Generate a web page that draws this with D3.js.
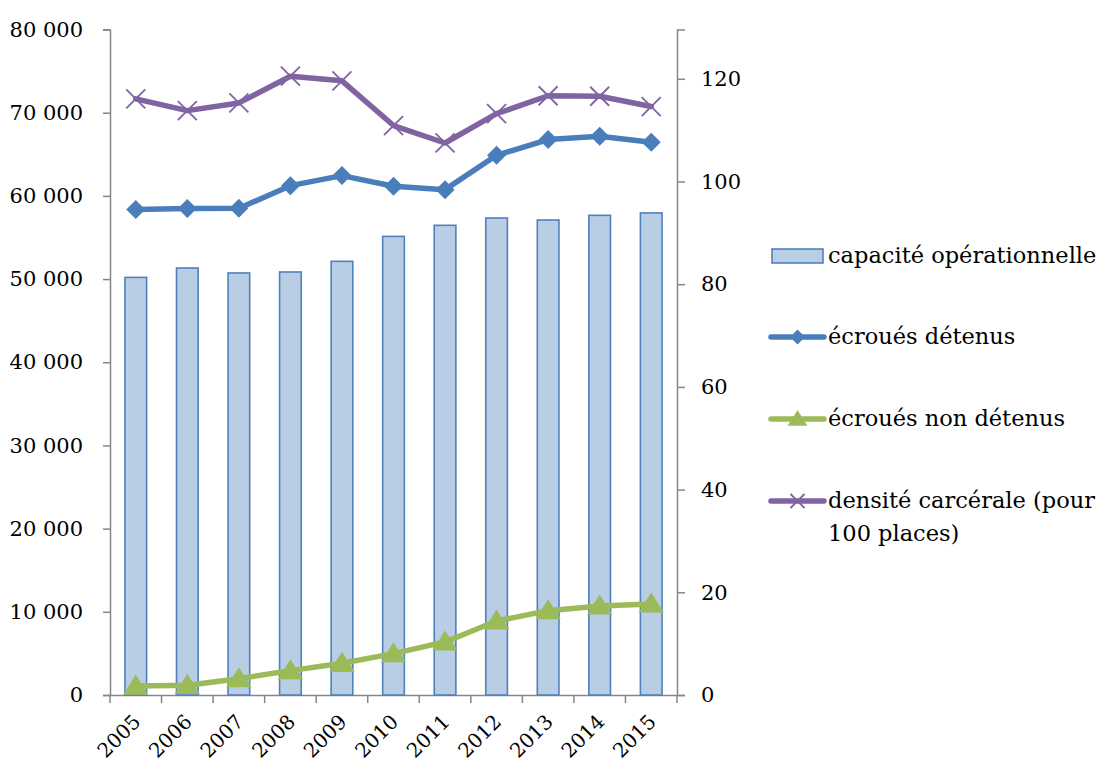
<!DOCTYPE html>
<html>
<head>
<meta charset="utf-8">
<script src="https://cdn.jsdelivr.net/npm/d3@7"></script>
<style>
  html, body { margin: 0; padding: 0; background: #fff; }
  svg text { font-family: "DejaVu Serif", serif !important; }
</style>
</head>
<body>
<svg id="chart" width="1103" height="767"></svg>
<script>
// Années
const years = ["2005","2006","2007","2008","2009","2010","2011","2012","2013","2014","2015"];
// Capacité opérationnelle (places)
const capacite = [50200, 51330, 50730, 50850, 52130, 55130, 56460, 57340, 57100, 57660, 57950];
// Écroués détenus
const detenus = [58350, 58470, 58500, 61230, 62440, 61150, 60750, 64880, 66770, 67160, 66440];
// Écroués non détenus
const nonDetenus = [1080, 1160, 1960, 2930, 3810, 4970, 6380, 8900, 10140, 10710, 10950];
// Densité carcérale (pour 100 places), axe de droite
const densite = [116.1, 113.8, 115.3, 120.5, 119.6, 110.9, 107.5, 113.2, 116.7, 116.6, 114.6];
// Graduations
const leftTicks = [0, 10000, 20000, 30000, 40000, 50000, 60000, 70000, 80000];
const rightTicks = [0, 20, 40, 60, 80, 100, 120];
const legendLabels = ["capacité opérationnelle", "écroués détenus", "écroués non détenus", "densité carcérale (pour", "100 places)"];

const colBarFill = "#B9CDE5", colBarStroke = "#4F81BD";
const colBlue = "#4A7EBB", colGreen = "#9BBB59", colPurple = "#8064A2";
const axisCol = "#868686";

const svg = d3.select("#chart");
const L = 110, R = 677, T = 29.5, B = 695;
const FS_AXIS = 21, FS_YEAR = 20, FS_LEG = 22.5;

const x = d3.scaleBand().domain(years).range([L, R]).paddingInner(0.58).paddingOuter(0.29);
const xc = d => x(d) + x.bandwidth() / 2;
const yL = d3.scaleLinear().domain([0, 80000]).range([B, T]);
const yR = d3.scaleLinear().domain([0, 129.6]).range([B, T]);

const fmt = v => d3.format(",")(v).replace(/,/g, " ");

// Axe gauche
const gl = svg.append("g").attr("transform", `translate(${L},0)`)
  .call(d3.axisLeft(yL).tickValues(leftTicks).tickSize(7).tickPadding(20).tickFormat(fmt));
// Axe droit
const gr = svg.append("g").attr("transform", `translate(${R},0)`)
  .call(d3.axisRight(yR).tickValues(rightTicks).tickSize(8).tickPadding(16));
// Axe des abscisses
const gb = svg.append("g").attr("transform", `translate(0,${B})`)
  .call(d3.axisBottom(x).tickSize(0).tickFormat(""));
[gl, gr, gb].forEach(g => {
  g.select(".domain").attr("stroke", axisCol).attr("stroke-width", 1.5);
  g.selectAll(".tick line").attr("stroke", axisCol).attr("stroke-width", 1.5);
  g.selectAll("text").attr("font-size", FS_AXIS).attr("fill", "#000");
});
// séparateurs de catégories
const sep = d3.range(years.length + 1).map(i => L + i * (R - L) / years.length);
svg.append("g").selectAll("line").data(sep).join("line")
  .attr("x1", d => d).attr("x2", d => d).attr("y1", B).attr("y2", B + 8)
  .attr("stroke", axisCol).attr("stroke-width", 1.5);
// libellés des années
svg.append("g").selectAll("text").data(years).join("text")
  .attr("transform", d => `translate(${xc(d) + 6},${B + 28}) rotate(-45)`)
  .attr("text-anchor", "end")
  .attr("font-size", FS_YEAR).text(d => d);

// Barres
svg.append("g").selectAll("rect").data(years).join("rect")
  .attr("x", d => x(d)).attr("width", x.bandwidth())
  .attr("y", (d, i) => yL(capacite[i])).attr("height", (d, i) => B - yL(capacite[i]))
  .attr("fill", colBarFill).attr("stroke", colBarStroke).attr("stroke-width", 1.6);

function drawLine(vals, scale, color) {
  const line = d3.line().x((v, i) => xc(years[i])).y(v => scale(v));
  svg.append("path").datum(vals).attr("d", line)
    .attr("fill", "none").attr("stroke", color).attr("stroke-width", 5.5)
    .attr("stroke-linejoin", "round").attr("stroke-linecap", "round");
}
const diamond = s => `M0,${-s}L${s},0L0,${s}L${-s},0Z`;
const triangle = s => `M0,${-s}L${s*1.1},${s*0.75}L${-s*1.1},${s*0.75}Z`;
const cross = s => `M${-s},${-s}L${s},${s}M${-s},${s}L${s},${-s}`;

// Écroués détenus
drawLine(detenus, yL, colBlue);
svg.append("g").selectAll("path").data(detenus).join("path")
  .attr("transform", (v, i) => `translate(${xc(years[i])},${yL(v)})`)
  .attr("d", diamond(9.5)).attr("fill", colBlue);
// Écroués non détenus
drawLine(nonDetenus, yL, colGreen);
svg.append("g").selectAll("path").data(nonDetenus).join("path")
  .attr("transform", (v, i) => `translate(${xc(years[i])},${yL(v)})`)
  .attr("d", triangle(11.5)).attr("fill", colGreen);
// Densité carcérale
drawLine(densite, yR, colPurple);
svg.append("g").selectAll("path").data(densite).join("path")
  .attr("transform", (v, i) => `translate(${xc(years[i])},${yR(v)})`)
  .attr("d", cross(9.5)).attr("fill", "none").attr("stroke", colPurple).attr("stroke-width", 1.8);

// Légende
const lg = svg.append("g");
const lx = 771, lw = 53, tx = 828;
lg.append("rect").attr("x", lx + 1).attr("y", 249).attr("width", lw - 2).attr("height", 14)
  .attr("fill", colBarFill).attr("stroke", colBarStroke).attr("stroke-width", 1.6);
const items = [
  {y: 337, c: colBlue, m: diamond(7.5), fill: true},
  {y: 419, c: colGreen, m: triangle(9), fill: true},
  {y: 501, c: colPurple, m: cross(7), fill: false}
];
items.forEach(it => {
  lg.append("line").attr("x1", lx).attr("x2", lx + lw).attr("y1", it.y).attr("y2", it.y)
    .attr("stroke", it.c).attr("stroke-width", 5.5).attr("stroke-linecap", "round");
  lg.append("path").attr("transform", `translate(${lx + lw / 2},${it.y})`).attr("d", it.m)
    .attr("fill", it.fill ? it.c : "none").attr("stroke", it.fill ? "none" : it.c).attr("stroke-width", 1.8);
});
const ty = [256, 337, 419, 501, 534];
lg.selectAll("text").data(legendLabels).join("text")
  .attr("x", tx).attr("y", (d, i) => ty[i]).attr("dy", "0.32em")
  .attr("font-size", FS_LEG).text(d => d);
</script>
</body>
</html>
